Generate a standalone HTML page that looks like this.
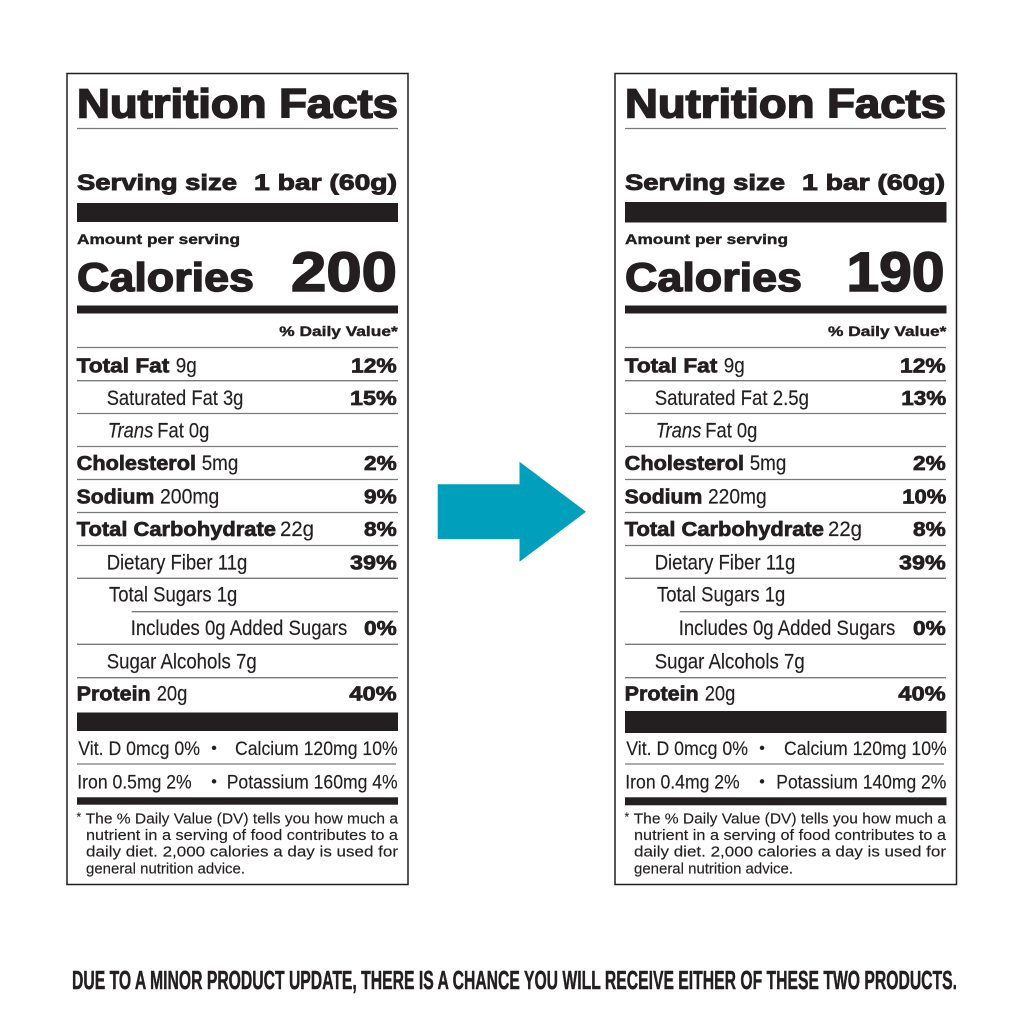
<!DOCTYPE html>
<html>
<head>
<meta charset="utf-8">
<style>
html,body{margin:0;padding:0;background:#fff;}
svg{display:block;}
.b{font-family:"Liberation Sans",Arial,sans-serif;font-weight:bold;fill:#231f20;stroke:#231f20;stroke-width:0.7;}
.r{font-family:"Liberation Sans",Arial,sans-serif;fill:#231f20;stroke:#231f20;stroke-width:0.15;}
.i{font-family:"Liberation Sans",Arial,sans-serif;font-style:italic;fill:#231f20;stroke:#231f20;stroke-width:0.15;}
.ln{stroke:#7a7a7a;stroke-width:1.3;}
</style>
</head>
<body>
<svg width="1024" height="1024" viewBox="0 0 1024 1024" xmlns="http://www.w3.org/2000/svg">
<rect x="0" y="0" width="1024" height="1024" fill="#fff"/>

<!-- ================= LEFT LABEL ================= -->
<g>
<rect x="67" y="73.5" width="341" height="811" fill="#fff" stroke="#231f20" stroke-width="1.5"/>
<text class="b" x="77" y="117.5" font-size="41" textLength="321" lengthAdjust="spacingAndGlyphs" style="stroke-width:1.6">Nutrition Facts</text>
<line class="ln" x1="77" y1="128.5" x2="398" y2="128.5"/>
<text class="b" x="77" y="190" font-size="22" textLength="160" lengthAdjust="spacingAndGlyphs" style="stroke-width:0.9">Serving size</text>
<text class="b" x="254" y="190" font-size="22" textLength="143" lengthAdjust="spacingAndGlyphs" style="stroke-width:0.9">1 bar (60g)</text>
<rect x="77" y="203" width="321" height="19" fill="#231f20"/>
<text class="b" x="77" y="244" font-size="14" textLength="163" lengthAdjust="spacingAndGlyphs" style="stroke-width:0.4">Amount per serving</text>
<text class="b" x="77" y="291" font-size="40" textLength="177" lengthAdjust="spacingAndGlyphs" style="stroke-width:1.4">Calories</text>
<text class="b" x="291" y="291" font-size="56" textLength="106" lengthAdjust="spacingAndGlyphs" style="stroke-width:1.6">200</text>
<rect x="77" y="305.5" width="321" height="8" fill="#231f20"/>
<text class="b" x="279.3" y="336" font-size="14" textLength="118.4" lengthAdjust="spacingAndGlyphs" style="stroke-width:0.4">% Daily Value*</text>
<line class="ln" x1="77" y1="347.5" x2="398" y2="347.5"/>

<text class="b" x="76.7" y="372.3" font-size="20" textLength="92.6" lengthAdjust="spacingAndGlyphs">Total Fat</text>
<text class="r" x="175.7" y="372.3" font-size="21" textLength="21" lengthAdjust="spacingAndGlyphs">9g</text>
<text class="b" x="351" y="372.3" font-size="20" textLength="45.7" lengthAdjust="spacingAndGlyphs">12%</text>
<line class="ln" x1="77" y1="380.7" x2="398" y2="380.7"/>

<text class="r" x="106.7" y="405" font-size="21" textLength="136.7" lengthAdjust="spacingAndGlyphs">Saturated Fat 3g</text>
<text class="b" x="350" y="405" font-size="20" textLength="46.7" lengthAdjust="spacingAndGlyphs">15%</text>
<line class="ln" x1="77" y1="413.5" x2="398" y2="413.5"/>

<text class="i" x="107.7" y="437.5" font-size="21" textLength="45.6" lengthAdjust="spacingAndGlyphs">Trans</text>
<text class="r" x="157.3" y="437.5" font-size="21" textLength="52" lengthAdjust="spacingAndGlyphs">Fat 0g</text>
<line class="ln" x1="77" y1="446.5" x2="398" y2="446.5"/>

<text class="b" x="76.7" y="470" font-size="20" textLength="119.3" lengthAdjust="spacingAndGlyphs">Cholesterol</text>
<text class="r" x="201.7" y="470" font-size="21" textLength="36.6" lengthAdjust="spacingAndGlyphs">5mg</text>
<text class="b" x="364" y="470" font-size="20" textLength="32.7" lengthAdjust="spacingAndGlyphs">2%</text>
<line class="ln" x1="77" y1="479.5" x2="398" y2="479.5"/>

<text class="b" x="76.7" y="503.3" font-size="20" textLength="77.6" lengthAdjust="spacingAndGlyphs">Sodium</text>
<text class="r" x="160" y="503.3" font-size="21" textLength="59.3" lengthAdjust="spacingAndGlyphs">200mg</text>
<text class="b" x="364" y="503.3" font-size="20" textLength="32.7" lengthAdjust="spacingAndGlyphs">9%</text>
<line class="ln" x1="77" y1="512.5" x2="398" y2="512.5"/>

<text class="b" x="76.7" y="536" font-size="20" textLength="199.3" lengthAdjust="spacingAndGlyphs">Total Carbohydrate</text>
<text class="r" x="280" y="536" font-size="21" textLength="34" lengthAdjust="spacingAndGlyphs">22g</text>
<text class="b" x="364" y="536" font-size="20" textLength="32.7" lengthAdjust="spacingAndGlyphs">8%</text>
<line class="ln" x1="77" y1="545.5" x2="398" y2="545.5"/>

<text class="r" x="106.7" y="569.3" font-size="21" textLength="140.6" lengthAdjust="spacingAndGlyphs">Dietary Fiber 11g</text>
<text class="b" x="350" y="569.3" font-size="20" textLength="46.7" lengthAdjust="spacingAndGlyphs">39%</text>
<line class="ln" x1="77" y1="578.3" x2="398" y2="578.3"/>

<text class="r" x="109" y="601.7" font-size="21" textLength="128.3" lengthAdjust="spacingAndGlyphs">Total Sugars 1g</text>
<line class="ln" x1="131.7" y1="611.7" x2="398" y2="611.7"/>

<text class="r" x="130.7" y="635" font-size="21" textLength="216.6" lengthAdjust="spacingAndGlyphs">Includes 0g Added Sugars</text>
<text class="b" x="364" y="635" font-size="20" textLength="32.7" lengthAdjust="spacingAndGlyphs">0%</text>
<line class="ln" x1="77" y1="644.3" x2="398" y2="644.3"/>

<text class="r" x="106.7" y="668.3" font-size="21" textLength="150" lengthAdjust="spacingAndGlyphs">Sugar Alcohols 7g</text>
<line class="ln" x1="77" y1="677.7" x2="398" y2="677.7"/>

<text class="b" x="76.7" y="700.7" font-size="20" textLength="74" lengthAdjust="spacingAndGlyphs">Protein</text>
<text class="r" x="156.7" y="700.7" font-size="21" textLength="30.6" lengthAdjust="spacingAndGlyphs">20g</text>
<text class="b" x="349.3" y="700.7" font-size="20" textLength="47.4" lengthAdjust="spacingAndGlyphs">40%</text>
<rect x="77" y="712.5" width="321" height="18.5" fill="#231f20"/>

<text class="r" x="78.3" y="755" font-size="19.5" textLength="121.7" lengthAdjust="spacingAndGlyphs">Vit. D 0mcg 0%</text>
<text class="r" x="214" y="753" font-size="16" text-anchor="middle">•</text>
<text class="r" x="235" y="755" font-size="19.5" textLength="162.7" lengthAdjust="spacingAndGlyphs">Calcium 120mg 10%</text>
<line class="ln" x1="77" y1="764" x2="396" y2="764"/>

<text class="r" x="77.3" y="788.3" font-size="19.5" textLength="114.4" lengthAdjust="spacingAndGlyphs">Iron 0.5mg 2%</text>
<text class="r" x="214" y="786.3" font-size="16" text-anchor="middle">•</text>
<text class="r" x="226.7" y="788.3" font-size="19.5" textLength="171" lengthAdjust="spacingAndGlyphs">Potassium 160mg 4%</text>
<rect x="77" y="797.3" width="321" height="7.4" fill="#231f20"/>

<text class="r" x="76.5" y="821" font-size="12">*</text>
<text class="r" x="85.7" y="823.3" font-size="15" textLength="312.3" lengthAdjust="spacingAndGlyphs">The % Daily Value (DV) tells you how much a</text>
<text class="r" x="86" y="840" font-size="15" textLength="312" lengthAdjust="spacingAndGlyphs">nutrient in a serving of food contributes to a</text>
<text class="r" x="86" y="856.7" font-size="15" textLength="312" lengthAdjust="spacingAndGlyphs">daily diet. 2,000 calories a day is used for</text>
<text class="r" x="86" y="873.3" font-size="15" textLength="159" lengthAdjust="spacingAndGlyphs">general nutrition advice.</text>
</g>

<!-- ================= RIGHT LABEL ================= -->
<g transform="translate(548,0)">
<rect x="67" y="73.5" width="341.5" height="811" fill="#fff" stroke="#231f20" stroke-width="1.5"/>
<text class="b" x="77" y="117.5" font-size="41" textLength="321" lengthAdjust="spacingAndGlyphs" style="stroke-width:1.6">Nutrition Facts</text>
<line class="ln" x1="77" y1="128.5" x2="398" y2="128.5"/>
<text class="b" x="77" y="190" font-size="22" textLength="160" lengthAdjust="spacingAndGlyphs" style="stroke-width:0.9">Serving size</text>
<text class="b" x="254" y="190" font-size="22" textLength="143" lengthAdjust="spacingAndGlyphs" style="stroke-width:0.9">1 bar (60g)</text>
<rect x="77" y="202" width="321.5" height="20.5" fill="#231f20"/>
<text class="b" x="77" y="244" font-size="14" textLength="163" lengthAdjust="spacingAndGlyphs" style="stroke-width:0.4">Amount per serving</text>
<text class="b" x="77" y="291" font-size="40" textLength="177" lengthAdjust="spacingAndGlyphs" style="stroke-width:1.4">Calories</text>
<text class="b" x="298.5" y="291" font-size="56" textLength="98" lengthAdjust="spacingAndGlyphs" style="stroke-width:1.6">190</text>
<rect x="77" y="305.5" width="321.5" height="8" fill="#231f20"/>
<text class="b" x="280" y="336" font-size="14" textLength="118.4" lengthAdjust="spacingAndGlyphs" style="stroke-width:0.4">% Daily Value*</text>
<line class="ln" x1="77" y1="347.5" x2="398" y2="347.5"/>

<text class="b" x="76.7" y="372.3" font-size="20" textLength="92.6" lengthAdjust="spacingAndGlyphs">Total Fat</text>
<text class="r" x="175.7" y="372.3" font-size="21" textLength="21" lengthAdjust="spacingAndGlyphs">9g</text>
<text class="b" x="352" y="372.3" font-size="20" textLength="45.7" lengthAdjust="spacingAndGlyphs">12%</text>
<line class="ln" x1="77" y1="380.7" x2="398" y2="380.7"/>

<text class="r" x="106.7" y="405" font-size="21" textLength="154.3" lengthAdjust="spacingAndGlyphs">Saturated Fat 2.5g</text>
<text class="b" x="353.3" y="405" font-size="20" textLength="45" lengthAdjust="spacingAndGlyphs">13%</text>
<line class="ln" x1="77" y1="413.5" x2="398" y2="413.5"/>

<text class="i" x="107.7" y="437.5" font-size="21" textLength="45.6" lengthAdjust="spacingAndGlyphs">Trans</text>
<text class="r" x="157.3" y="437.5" font-size="21" textLength="52" lengthAdjust="spacingAndGlyphs">Fat 0g</text>
<line class="ln" x1="77" y1="446.5" x2="398" y2="446.5"/>

<text class="b" x="76.7" y="470" font-size="20" textLength="119.3" lengthAdjust="spacingAndGlyphs">Cholesterol</text>
<text class="r" x="201.7" y="470" font-size="21" textLength="36.6" lengthAdjust="spacingAndGlyphs">5mg</text>
<text class="b" x="365" y="470" font-size="20" textLength="32.7" lengthAdjust="spacingAndGlyphs">2%</text>
<line class="ln" x1="77" y1="479.5" x2="398" y2="479.5"/>

<text class="b" x="76.7" y="503.3" font-size="20" textLength="77.6" lengthAdjust="spacingAndGlyphs">Sodium</text>
<text class="r" x="160" y="503.3" font-size="21" textLength="58.7" lengthAdjust="spacingAndGlyphs">220mg</text>
<text class="b" x="354.3" y="503.3" font-size="20" textLength="44" lengthAdjust="spacingAndGlyphs">10%</text>
<line class="ln" x1="77" y1="512.5" x2="398" y2="512.5"/>

<text class="b" x="76.7" y="536" font-size="20" textLength="199.3" lengthAdjust="spacingAndGlyphs">Total Carbohydrate</text>
<text class="r" x="280" y="536" font-size="21" textLength="34" lengthAdjust="spacingAndGlyphs">22g</text>
<text class="b" x="365" y="536" font-size="20" textLength="32.7" lengthAdjust="spacingAndGlyphs">8%</text>
<line class="ln" x1="77" y1="545.5" x2="398" y2="545.5"/>

<text class="r" x="106.7" y="569.3" font-size="21" textLength="140.6" lengthAdjust="spacingAndGlyphs">Dietary Fiber 11g</text>
<text class="b" x="351" y="569.3" font-size="20" textLength="46.7" lengthAdjust="spacingAndGlyphs">39%</text>
<line class="ln" x1="77" y1="578.3" x2="398" y2="578.3"/>

<text class="r" x="109" y="601.7" font-size="21" textLength="128.3" lengthAdjust="spacingAndGlyphs">Total Sugars 1g</text>
<line class="ln" x1="131.7" y1="611.7" x2="398" y2="611.7"/>

<text class="r" x="130.7" y="635" font-size="21" textLength="216.6" lengthAdjust="spacingAndGlyphs">Includes 0g Added Sugars</text>
<text class="b" x="365" y="635" font-size="20" textLength="32.7" lengthAdjust="spacingAndGlyphs">0%</text>
<line class="ln" x1="77" y1="644.3" x2="398" y2="644.3"/>

<text class="r" x="106.7" y="668.3" font-size="21" textLength="150" lengthAdjust="spacingAndGlyphs">Sugar Alcohols 7g</text>
<line class="ln" x1="77" y1="677.7" x2="398" y2="677.7"/>

<text class="b" x="76.7" y="700.7" font-size="20" textLength="74" lengthAdjust="spacingAndGlyphs">Protein</text>
<text class="r" x="156.7" y="700.7" font-size="21" textLength="30.6" lengthAdjust="spacingAndGlyphs">20g</text>
<text class="b" x="350.3" y="700.7" font-size="20" textLength="47.4" lengthAdjust="spacingAndGlyphs">40%</text>
<rect x="77" y="711" width="321.5" height="22" fill="#231f20"/>

<text class="r" x="78.3" y="755" font-size="19.5" textLength="121.7" lengthAdjust="spacingAndGlyphs">Vit. D 0mcg 0%</text>
<text class="r" x="214" y="753" font-size="16" text-anchor="middle">•</text>
<text class="r" x="236" y="755" font-size="19.5" textLength="162.7" lengthAdjust="spacingAndGlyphs">Calcium 120mg 10%</text>
<line class="ln" x1="77" y1="764" x2="396" y2="764"/>

<text class="r" x="77.3" y="788.3" font-size="19.5" textLength="114.4" lengthAdjust="spacingAndGlyphs">Iron 0.4mg 2%</text>
<text class="r" x="214" y="786.3" font-size="16" text-anchor="middle">•</text>
<text class="r" x="228.3" y="788.3" font-size="19.5" textLength="170" lengthAdjust="spacingAndGlyphs">Potassium 140mg 2%</text>
<rect x="77" y="797.3" width="321.5" height="8" fill="#231f20"/>

<text class="r" x="76.5" y="821" font-size="12">*</text>
<text class="r" x="85.7" y="823.3" font-size="15" textLength="312.3" lengthAdjust="spacingAndGlyphs">The % Daily Value (DV) tells you how much a</text>
<text class="r" x="86" y="840" font-size="15" textLength="312" lengthAdjust="spacingAndGlyphs">nutrient in a serving of food contributes to a</text>
<text class="r" x="86" y="856.7" font-size="15" textLength="312" lengthAdjust="spacingAndGlyphs">daily diet. 2,000 calories a day is used for</text>
<text class="r" x="86" y="873.3" font-size="15" textLength="159" lengthAdjust="spacingAndGlyphs">general nutrition advice.</text>
</g>

<!-- ================= ARROW ================= -->
<polygon points="437.7,484.3 519.5,484.3 519.5,461.7 586,511.7 519.5,561.7 519.5,539 437.7,539" fill="#00a0bc"/>

<!-- ================= BOTTOM TEXT ================= -->
<text class="b" x="72" y="989" font-size="26" textLength="885" lengthAdjust="spacingAndGlyphs" style="stroke-width:0.5">DUE TO A MINOR PRODUCT UPDATE, THERE IS A CHANCE YOU WILL RECEIVE EITHER OF THESE TWO PRODUCTS.</text>
</svg>
</body>
</html>
